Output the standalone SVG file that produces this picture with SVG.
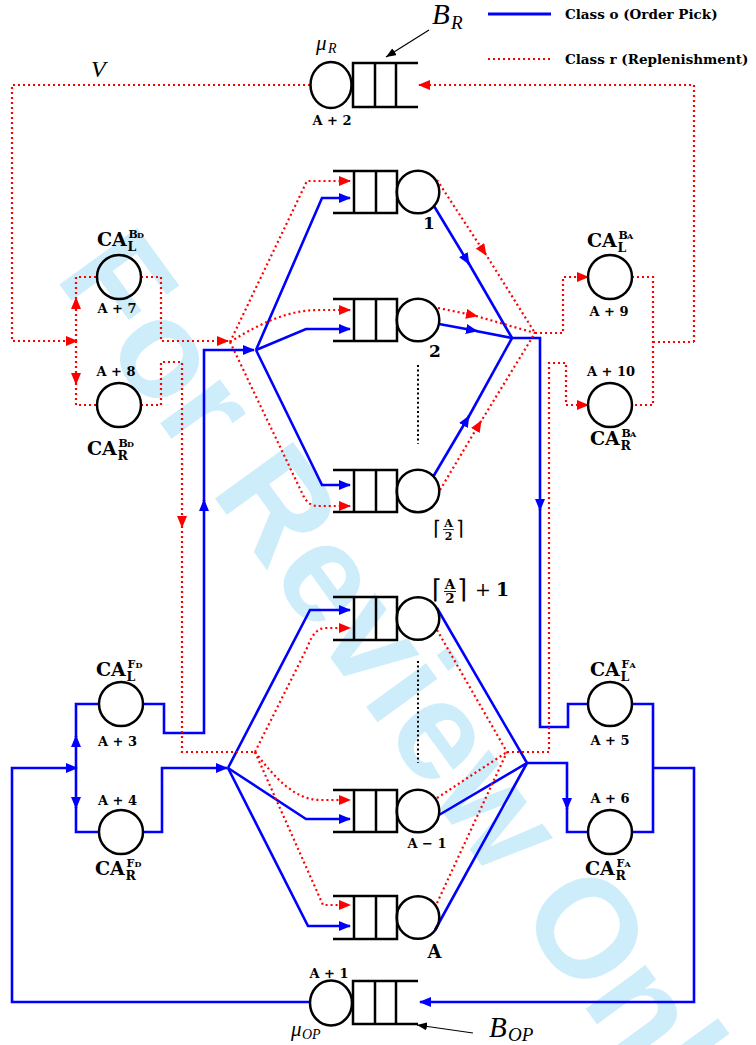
<svg xmlns="http://www.w3.org/2000/svg" width="756" height="1045" viewBox="0 0 756 1045">
<defs>
<style>
.o{fill:none;stroke:#0000ff;stroke-width:2.6}
.r{fill:none;stroke:#ff0000;stroke-width:2.2;stroke-dasharray:2 3}
.k{fill:none;stroke:#000;stroke-width:2.5}
.dots{fill:none;stroke:#000;stroke-width:2;stroke-dasharray:2 2.6}
.lb{font-family:"DejaVu Serif","Liberation Serif",serif;font-weight:bold;fill:#000}
.n{font-size:13px;text-anchor:middle}
.mi{font-family:"Liberation Serif","DejaVu Serif",serif;font-style:italic;fill:#000}
.br{font-family:"DejaVu Sans",sans-serif;fill:#000}
.wm{font-family:"Liberation Sans",Arial,sans-serif;font-weight:bold;fill:#cdedfb}
</style>
<marker id="ab" viewBox="0 0 12 10" refX="11" refY="5" markerWidth="12" markerHeight="10" markerUnits="userSpaceOnUse" orient="auto"><path d="M0,0 L12,5 L0,10 Z" fill="#0000ff"/></marker>
<marker id="ar" viewBox="0 0 12 10" refX="11" refY="5" markerWidth="12" markerHeight="10" markerUnits="userSpaceOnUse" orient="auto"><path d="M0,0 L12,5 L0,10 Z" fill="#ff0000"/></marker>
<marker id="ak" viewBox="0 0 10 8" refX="10" refY="4" markerWidth="10" markerHeight="8" markerUnits="userSpaceOnUse" orient="auto"><path d="M0,0 L10,4 L0,8 Z" fill="#000"/></marker>
</defs>
<rect width="756" height="1045" fill="#fff"/>
<text class="wm" x="54" y="277" font-size="140" transform="rotate(54 54 277)">For Review Only</text>

<g id="legend">
<path d="M488,14 H551" stroke="#0000ff" stroke-width="3"/>
<text class="lb" x="565" y="19" font-size="13.5">Class o (Order Pick)</text>
<path d="M488,59 H551" class="r"/>
<text class="lb" x="565" y="64" font-size="13.5">Class r (Replenishment)</text>
</g>

<g id="connectors">
<path class="o" d="M653,768 H694 V1002 H420" marker-end="url(#ab)"/>
<path class="o" d="M632,704 H653 V832 H632"/>
<path class="o" d="M310,1002 H12 V768 H77" marker-end="url(#ab)"/>
<path class="o" d="M76,768 V736" marker-end="url(#ab)"/>
<path class="o" d="M76,737 V704 H99"/>
<path class="o" d="M76,768 V808" marker-end="url(#ab)"/>
<path class="o" d="M76,807 V832 H99"/>
<path class="o" d="M143,704 H164 V733 H204 V500" marker-end="url(#ab)"/>
<path class="o" d="M204,501 V350 H254" marker-end="url(#ab)"/>
<path class="o" d="M143,832 H162 V768 H227" marker-end="url(#ab)"/>
<path class="o" d="M256,350 L322,198 H350" marker-end="url(#ab)"/>
<path class="o" d="M256,350 L306,329 H350" marker-end="url(#ab)"/>
<path class="o" d="M256,350 L322,485 H350" marker-end="url(#ab)"/>
<path class="o" d="M434,206 L469,264" marker-end="url(#ab)"/>
<path class="o" d="M468,262 L512,338"/>
<path class="o" d="M439,324 L477,331" marker-end="url(#ab)"/>
<path class="o" d="M476,331 L512,338"/>
<path class="o" d="M433,477 L469,416" marker-end="url(#ab)"/>
<path class="o" d="M468,418 L512,338"/>
<path class="o" d="M512,338 H540 V510" marker-end="url(#ab)"/>
<path class="o" d="M540,509 V727 H568 V704 H588"/>
<path class="o" d="M228,768 L310,610 H350" marker-end="url(#ab)"/>
<path class="o" d="M228,768 L306,819 H350" marker-end="url(#ab)"/>
<path class="o" d="M228,768 L308,926 H350" marker-end="url(#ab)"/>
<path class="o" d="M437,608 L527,763 M439,815 L527,763 M435,930 L527,763"/>
<path class="o" d="M527,763 H567 V809" marker-end="url(#ab)"/>
<path class="o" d="M567,808 V832 H588"/>

<path class="r" d="M694,342 V85 H419" marker-end="url(#ar)"/>
<path class="r" d="M632,277 H653 V405 H632"/>
<path class="r" d="M653,342 H694"/>
<path class="r" d="M310,85 H12 V341 H77" marker-end="url(#ar)"/>
<path class="r" d="M76,341 V298" marker-end="url(#ar)"/>
<path class="r" d="M76,299 V277 H97"/>
<path class="r" d="M76,341 V384" marker-end="url(#ar)"/>
<path class="r" d="M76,383 V405 H97"/>
<path class="r" d="M141,277 H161 V341 H228" marker-end="url(#ar)"/>
<path class="r" d="M141,405 H161 V362 H182 V527" marker-end="url(#ar)"/>
<path class="r" d="M182,526 V752 H255"/>
<path class="r" d="M230,342 L307,181 H350" marker-end="url(#ar)"/>
<path class="r" d="M230,342 C262,322 290,310 318,310 H350" marker-end="url(#ar)"/>
<path class="r" d="M230,342 L303,495 Q308,506 318,506 H350" marker-end="url(#ar)"/>
<path class="r" d="M437,180 L486,255" marker-end="url(#ar)"/>
<path class="r" d="M485,253 L535,333"/>
<path class="r" d="M438,308 L477,316" marker-end="url(#ar)"/>
<path class="r" d="M476,316 L535,333"/>
<path class="r" d="M440,490 L481,421" marker-end="url(#ar)"/>
<path class="r" d="M480,423 L535,333"/>
<path class="r" d="M535,333 H563 V277 H588" marker-end="url(#ar)"/>
<path class="r" d="M255,752 L308,646 Q314,628 326,628 H350" marker-end="url(#ar)"/>
<path class="r" d="M255,752 C275,778 295,800 320,800 H350" marker-end="url(#ar)"/>
<path class="r" d="M255,752 L323,905 H350" marker-end="url(#ar)"/>
<path class="r" d="M437,630 L507,752 M437,798 L507,752 M437,903 L507,752"/>
<path class="r" d="M507,752 H549 V363 H566 V405 H588" marker-end="url(#ar)"/>
</g>

<g id="node-A2">
<ellipse class="k" cx="331" cy="85" rx="20.5" ry="23"/>
<path class="k" d="M418,63 H353 V107 H418 M375,63 V107 M396,63 V107"/>
<text class="lb n" x="332" y="125">A + 2</text>
<text class="mi" x="316" y="50" font-size="21">μ</text>
<text class="mi" x="328" y="53" font-size="14">R</text>
<text class="mi" x="432" y="24" font-size="29">B</text>
<text class="mi" x="451" y="29" font-size="19">R</text>
<path d="M429,30 L386,57" stroke="#000" stroke-width="1.2" marker-end="url(#ak)"/>
</g>

<g id="node-1">
<path class="k" d="M333,171 H397 V213 H333 M354,171 V213 M376,171 V213"/>
<circle class="k" cx="418" cy="192" r="21.3"/>
<text class="lb" x="429" y="229" font-size="17" text-anchor="middle">1</text>
</g>
<g id="node-2">
<path class="k" d="M333,299 H397 V341 H333 M354,299 V341 M376,299 V341"/>
<circle class="k" cx="418" cy="320" r="21.3"/>
<text class="lb" x="435" y="357" font-size="17" text-anchor="middle">2</text>
</g>
<path class="dots" d="M418,365 V444"/>
<g id="node-halfA">
<path class="k" d="M333,470 H397 V512 H333 M354,470 V512 M376,470 V512"/>
<circle class="k" cx="418" cy="491" r="21.3"/>
<text class="br" x="433" y="535" font-size="20">⌈</text>
<text class="lb" x="448.5" y="527" font-size="11" text-anchor="middle">A</text>
<path d="M443,529.5 H454" stroke="#000" stroke-width="0.8"/>
<text class="lb" x="448.5" y="540" font-size="11" text-anchor="middle">2</text>
<text class="br" x="456" y="535" font-size="20">⌉</text>
</g>
<g id="node-halfA1">
<path class="k" d="M333,597 H397 V640 H333 M354,597 V640 M376,597 V640"/>
<circle class="k" cx="418" cy="618.5" r="21.3"/>
<text class="br" x="432" y="598" font-size="26">⌈</text>
<text class="lb" x="450" y="588.5" font-size="13.5" text-anchor="middle">A</text>
<path d="M444,591.5 H456" stroke="#000" stroke-width="0.9"/>
<text class="lb" x="450" y="603" font-size="13.5" text-anchor="middle">2</text>
<text class="br" x="457" y="598" font-size="26">⌉</text>
<text font-family="DejaVu Serif,serif" x="475" y="596" font-size="19">+</text>
<text class="lb" x="496" y="596" font-size="19">1</text>
</g>
<path class="dots" d="M418,661 V763"/>
<g id="node-Am1">
<path class="k" d="M333,790 H397 V832 H333 M354,790 V832 M376,790 V832"/>
<circle class="k" cx="418" cy="811" r="21.3"/>
<text class="lb n" x="427" y="848">A − 1</text>
</g>
<g id="node-A">
<path class="k" d="M333,896 H397 V939 H333 M354,896 V939 M376,896 V939"/>
<circle class="k" cx="418" cy="917.5" r="21.3"/>
<text class="lb" x="434.5" y="958" font-size="18" text-anchor="middle">A</text>
</g>

<g id="node-A1">
<ellipse class="k" cx="331" cy="1003" rx="21" ry="22.5"/>
<path class="k" d="M418,981 H353 V1024 H418 M375,981 V1024 M396,981 V1024"/>
<text class="lb n" x="329" y="978">A + 1</text>
<text class="mi" x="291" y="1036" font-size="21">μ</text>
<text class="mi" x="302" y="1039" font-size="14">OP</text>
<text class="mi" x="489" y="1037" font-size="29">B</text>
<text class="mi" x="508" y="1041" font-size="19">OP</text>
<path d="M473,1033 L417,1025" stroke="#000" stroke-width="1.2" marker-end="url(#ak)"/>
</g>

<g id="node-CALBD">
<circle class="k" cx="119" cy="277" r="22"/>
<text class="lb"><tspan x="97" y="246" font-size="19">CA</tspan><tspan x="127.5" y="251" font-size="12.5">L</tspan><tspan x="128.5" y="237.5" font-size="11">B</tspan><tspan x="137" y="237.5" font-size="8">D</tspan></text>
<text class="lb n" x="117" y="313">A + 7</text>
</g>
<g id="node-CARBD">
<circle class="k" cx="119" cy="405" r="22"/>
<text class="lb n" x="116" y="376">A + 8</text>
<text class="lb"><tspan x="87" y="455" font-size="19">CA</tspan><tspan x="117.5" y="460" font-size="12.5">R</tspan><tspan x="118.5" y="446.5" font-size="11">B</tspan><tspan x="127" y="446.5" font-size="8">D</tspan></text>
</g>
<g id="node-CALBA">
<circle class="k" cx="610" cy="277" r="22"/>
<text class="lb"><tspan x="587" y="247" font-size="19">CA</tspan><tspan x="617.5" y="252" font-size="12.5">L</tspan><tspan x="618.5" y="238.5" font-size="11">B</tspan><tspan x="627" y="238.5" font-size="8">A</tspan></text>
<text class="lb n" x="609" y="316">A + 9</text>
</g>
<g id="node-CARBA">
<circle class="k" cx="610" cy="405" r="22"/>
<text class="lb n" x="611" y="376">A + 10</text>
<text class="lb"><tspan x="590" y="445" font-size="19">CA</tspan><tspan x="620.5" y="450" font-size="12.5">R</tspan><tspan x="621.5" y="436.5" font-size="11">B</tspan><tspan x="630" y="436.5" font-size="8">A</tspan></text>
</g>
<g id="node-CALFD">
<circle class="k" cx="121" cy="704" r="22"/>
<text class="lb"><tspan x="96" y="676" font-size="19">CA</tspan><tspan x="126.5" y="681" font-size="12.5">L</tspan><tspan x="127.5" y="667.5" font-size="11">F</tspan><tspan x="135.5" y="667.5" font-size="8">D</tspan></text>
<text class="lb n" x="117.5" y="746">A + 3</text>
</g>
<g id="node-CARFD">
<circle class="k" cx="121" cy="832" r="22"/>
<text class="lb n" x="117.5" y="805">A + 4</text>
<text class="lb"><tspan x="95" y="875" font-size="19">CA</tspan><tspan x="125.5" y="880" font-size="12.5">R</tspan><tspan x="126.5" y="866.5" font-size="11">F</tspan><tspan x="134.5" y="866.5" font-size="8">D</tspan></text>
</g>
<g id="node-CALFA">
<circle class="k" cx="610" cy="704" r="22"/>
<text class="lb"><tspan x="590" y="676" font-size="19">CA</tspan><tspan x="620.5" y="681" font-size="12.5">L</tspan><tspan x="621.5" y="667.5" font-size="11">F</tspan><tspan x="629.5" y="667.5" font-size="8">A</tspan></text>
<text class="lb n" x="610" y="745">A + 5</text>
</g>
<g id="node-CARFA">
<circle class="k" cx="610" cy="832" r="22"/>
<text class="lb n" x="610" y="803">A + 6</text>
<text class="lb"><tspan x="585" y="875" font-size="19">CA</tspan><tspan x="615.5" y="880" font-size="12.5">R</tspan><tspan x="616.5" y="866.5" font-size="11">F</tspan><tspan x="624.5" y="866.5" font-size="8">A</tspan></text>
</g>
<text class="mi" x="91" y="77" font-size="24">V</text>
</svg>
